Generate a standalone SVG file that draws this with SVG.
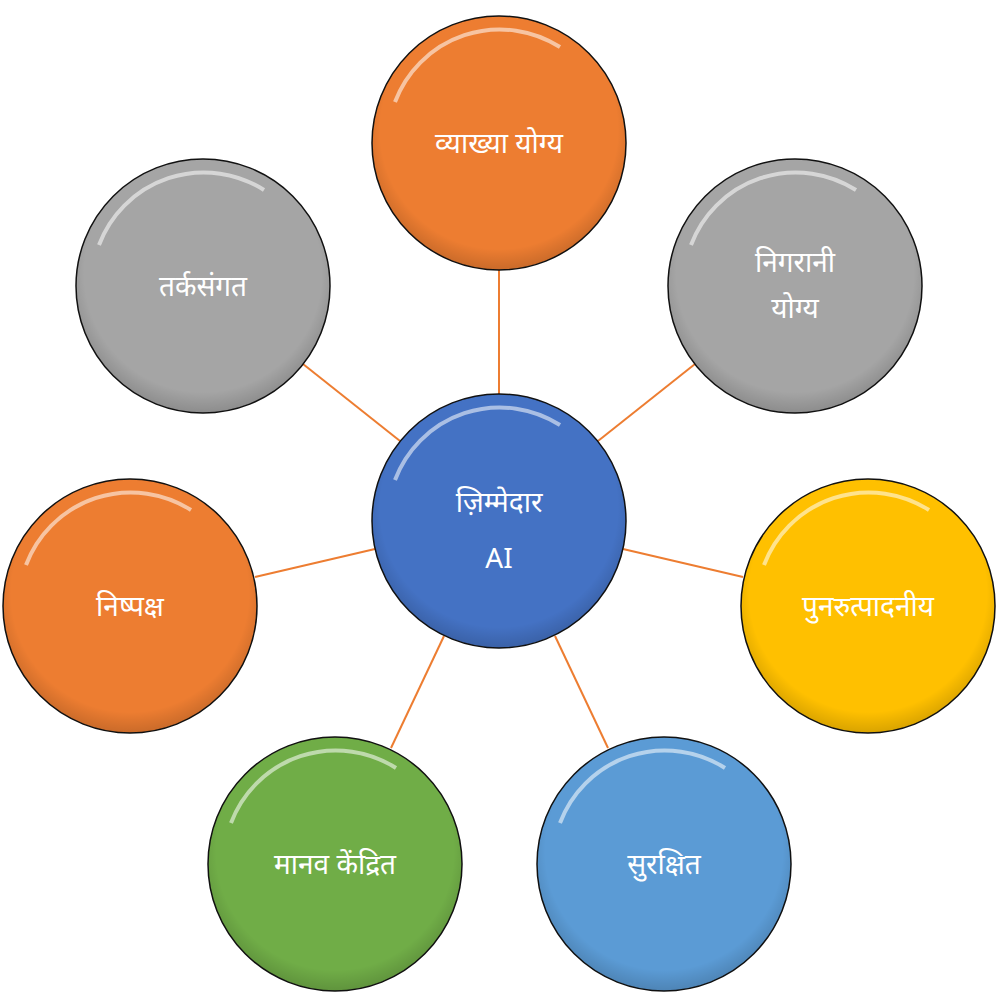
<svg xmlns="http://www.w3.org/2000/svg" width="999" height="1006" viewBox="0 0 999 1006">
<style>
.c{stroke:#111;stroke-width:1.5}
.hl{fill:none;stroke:#fff;stroke-opacity:0.55;stroke-width:4}
.t{font-family:"Noto Sans","Noto Sans Devanagari",sans-serif;fill:#fff;font-size:28px;text-anchor:middle}
.ln{stroke:#ED7D31;stroke-width:2}
</style>
<defs>
<radialGradient id="g" cx="0.5" cy="0.45" r="0.55">
<stop offset="0.85" stop-color="#000" stop-opacity="0"/>
<stop offset="1" stop-color="#000" stop-opacity="0.15"/>
</radialGradient>
</defs>
<rect width="999" height="1006" fill="#fff"/>
<g id="connectors">
<line class="ln" x1="499" y1="394" x2="499" y2="270"/>
<line class="ln" x1="400" y1="441" x2="303" y2="364"/>
<line class="ln" x1="598" y1="441" x2="695" y2="364"/>
<line class="ln" x1="375" y1="549" x2="255" y2="577"/>
<line class="ln" x1="623" y1="549" x2="743" y2="577"/>
<line class="ln" x1="444" y1="636" x2="391" y2="748"/>
<line class="ln" x1="555" y1="636" x2="608" y2="748"/>
</g>
<g id="center"><circle class="c" cx="499" cy="521" r="127" fill="#4472C4"/><circle cx="499" cy="521" r="127" fill="url(#g)"/><path class="hl" d="M395 480 A112 112 0 0 1 560 425"/><text class="t" x="499" y="512" font-size="42">ज़िम्मेदार</text><text class="t" x="499" y="568" font-size="36">AI</text></g>
<g id="n1"><circle class="c" cx="499" cy="143" r="127" fill="#ED7D31"/><circle cx="499" cy="143" r="127" fill="url(#g)"/><path class="hl" d="M395 102 A112 112 0 0 1 560 47"/><text class="t" x="499" y="153">व्याख्या  योग्य</text></g>
<g id="n2"><circle class="c" cx="203" cy="286" r="127" fill="#A5A5A5"/><circle cx="203" cy="286" r="127" fill="url(#g)"/><path class="hl" d="M99 245 A112 112 0 0 1 264 190"/><text class="t" x="203" y="296">तर्कसंगत</text></g>
<g id="n3"><circle class="c" cx="795" cy="286" r="127" fill="#A5A5A5"/><circle cx="795" cy="286" r="127" fill="url(#g)"/><path class="hl" d="M691 245 A112 112 0 0 1 856 190"/><text class="t" x="795" y="272">निगरानी</text><text class="t" x="795" y="318">योग्य</text></g>
<g id="n4"><circle class="c" cx="130" cy="606" r="127" fill="#ED7D31"/><circle cx="130" cy="606" r="127" fill="url(#g)"/><path class="hl" d="M26 565 A112 112 0 0 1 191 510"/><text class="t" x="130" y="616">निष्पक्ष</text></g>
<g id="n5"><circle class="c" cx="868" cy="606" r="127" fill="#FFC000"/><circle cx="868" cy="606" r="127" fill="url(#g)"/><path class="hl" d="M764 565 A112 112 0 0 1 929 510"/><text class="t" x="868" y="616">पुनरुत्पादनीय</text></g>
<g id="n6"><circle class="c" cx="335" cy="864" r="127" fill="#70AD47"/><circle cx="335" cy="864" r="127" fill="url(#g)"/><path class="hl" d="M231 823 A112 112 0 0 1 396 768"/><text class="t" x="335" y="874">मानव  केंद्रित</text></g>
<g id="n7"><circle class="c" cx="664" cy="864" r="127" fill="#5B9BD5"/><circle cx="664" cy="864" r="127" fill="url(#g)"/><path class="hl" d="M560 823 A112 112 0 0 1 725 768"/><text class="t" x="664" y="874">सुरक्षित</text></g>
</svg>
